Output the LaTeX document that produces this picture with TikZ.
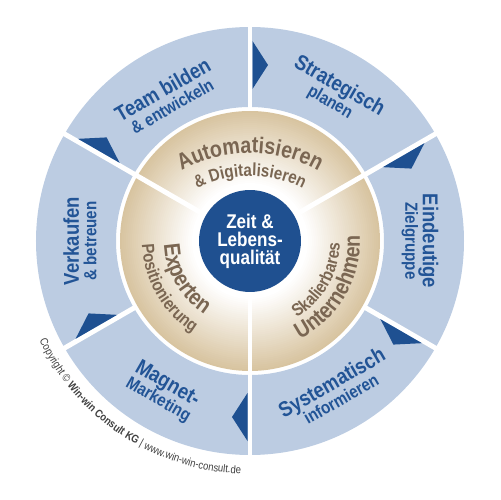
\documentclass[tikz,border=0pt]{standalone}
\usepackage{fontspec}
\newfontfamily\condf{Liberation Sans}[FakeStretch=0.86]
\usetikzlibrary{decorations.text}

\definecolor{ringblue}{RGB}{188,204,226}
\definecolor{markblue}{RGB}{30,80,145}
\definecolor{hubblue}{RGB}{31,80,144}
\definecolor{labblue}{RGB}{34,84,150}
\definecolor{tanring}{RGB}{216,196,160}
\definecolor{tantext}{RGB}{122,102,82}
\definecolor{copygray}{RGB}{64,64,64}

\newcommand\mainlab{\condf\bfseries\fontsize{12.2}{11}\selectfont}
\newcommand\sublab{\condf\bfseries\fontsize{10}{10}\selectfont}
\newcommand\tanmain{\condf\bfseries\fontsize{13}{14}\selectfont}
\newcommand\tansub{\condf\bfseries\fontsize{10}{11}\selectfont}
\newcommand\copyf{\condf\fontsize{6.3}{7}\selectfont}

\begin{document}
\begin{tikzpicture}[
  x=0.02cm, y=0.02cm,
  gap/.style={white, line width=2.8pt},
  marker/.style={fill=markblue},
  seglabel/.style={text=labblue, align=center, font=\sublab, inner sep=0pt},
  hub/.style={circle, fill=hubblue, text=white, align=center, inner sep=0pt,
              minimum size=2.04cm, font=\condf\bfseries\fontsize{11.3}{10.3}\selectfont},
  tanlab/.style={decorate, decoration={text along path, text align=center, text color=tantext, text={#1}}}
]
\useasboundingbox (-250,-259) rectangle (250,241);

% outer ring, six segments
\fill[ringblue, even odd rule] (0,0) circle (214) (0,0) circle (134);
\foreach \a in {30,90,...,330}
  \draw[gap] (\a:132) -- (\a:218);
\foreach \a in {90,30,-30,-90,-150,150}
  \fill[marker, rotate=\a] (152,-2.5) -- (200,-2.5) -- (176,-18) -- cycle;

% inner ring with fade towards the hub
\foreach \r in {130,128,...,52} {
  \pgfmathsetmacro\p{max(0,min(100,(\r-58)*100/72))}
  \fill[tanring!\p!white] (0,0) circle (\r);
}
\foreach \a in {30,150,270}
  \draw[gap] (\a:45) -- (\a:132);

\node[hub] (hub) at (0,0) {Zeit \&\\Lebens-\\qualität};

% outer labels
\node[seglabel, rotate=-30] (strat)   at (60:170)   {{\mainlab Strategisch}\\planen};
\node[seglabel, rotate=-90] (ziel)    at (0:170)    {{\mainlab Eindeutige}\\Zielgruppe};
\node[seglabel, rotate=30]  (info)    at (-60:172)  {{\mainlab Systematisch}\\informieren};
\node[seglabel, rotate=-30] (magnet)  at (-120:174) {{\mainlab Magnet-}\\Marketing};
\node[seglabel, rotate=90]  (verkauf) at (180:170)  {{\mainlab Verkaufen}\\\& betreuen};
\node[seglabel, rotate=30]  (team)    at (120:166)  {{\mainlab Team bilden}\\\& entwickeln};

% inner labels
\path[tanlab={|\tanmain|Automatisieren}, shift={(0,-50)}] (150:138) arc[start angle=150, end angle=30, radius=138];
\path[tanlab={|\tansub|{\&} Digitalisieren}, shift={(0,-50)}] (150:115) arc[start angle=150, end angle=30, radius=115];
\path[tanlab={|\tanmain|Experten}] (150:86) arc[start angle=150, end angle=270, radius=86];
\path[tanlab={|\tansub|Positionierung}] (150:108) arc[start angle=150, end angle=270, radius=108];
\path[tanlab={|\tansub|Skalierbares}] (270:90) arc[start angle=270, end angle=390, radius=90];
\path[tanlab={|\tanmain|Unternehmen}] (270:110) arc[start angle=270, end angle=390, radius=110];

% copyright
\path[decorate, decoration={text along path, text align=center, text color=copygray,
  text={|\copyf|Copyright © |\copyf\bfseries|Win-win Consult KG|\copyf| {\textbar} www.win-win-consult.de}}]
  (200:233) arc[start angle=200, end angle=273, radius=233];
\end{tikzpicture}
\end{document}
